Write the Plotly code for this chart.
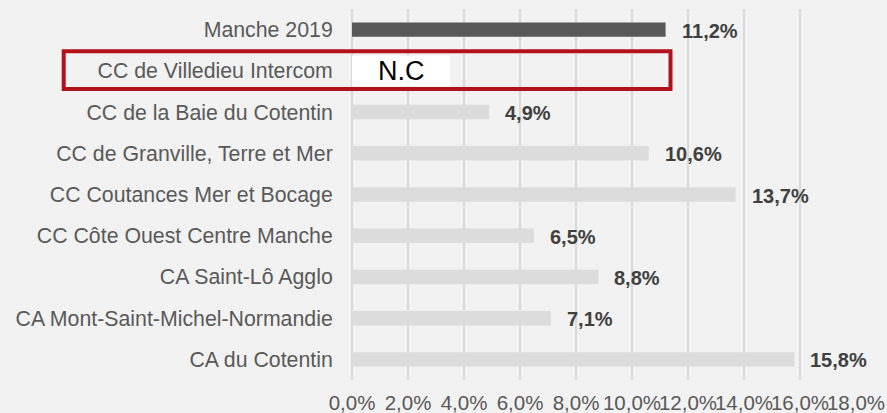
import plotly.graph_objects as go

categories = [
    "Manche 2019",
    "CC de Villedieu Intercom",
    "CC de la Baie du Cotentin",
    "CC de Granville, Terre et Mer",
    "CC Coutances Mer et Bocage",
    "CC Côte Ouest Centre Manche",
    "CA Saint-Lô Agglo",
    "CA Mont-Saint-Michel-Normandie",
    "CA du Cotentin",
]
values = [11.2, None, 4.9, 10.6, 13.7, 6.5, 8.8, 7.1, 15.8]
value_labels = ["11,2%", "", "4,9%", "10,6%", "13,7%", "6,5%", "8,8%", "7,1%", "15,8%"]
nc_category = ["CC de Villedieu Intercom"]
nc_text = ["N.C"]
nc_box_len = [3.5]
tick_vals = [0, 2, 4, 6, 8, 10, 12, 14, 16, 18]
tick_text = ["0,0%", "2,0%", "4,0%", "6,0%", "8,0%", "10,0%", "12,0%", "14,0%", "16,0%", "18,0%"]

FONT = "Liberation Sans, Arial, sans-serif"
bar_colors = ["#595959" if c == "Manche 2019" else "#dcdcdc" for c in categories]

fig = go.Figure()
fig.add_trace(go.Bar(
    y=categories, x=values, orientation="h", width=0.35,
    marker=dict(color=bar_colors, line=dict(width=0)),
    hoverinfo="skip", showlegend=False,
))
fig.add_trace(go.Bar(
    y=nc_category, x=nc_box_len, orientation="h", width=0.73,
    marker=dict(color="#ffffff", line=dict(width=0)),
    hoverinfo="skip", showlegend=False,
))
for c, ln, t in zip(nc_category, nc_box_len, nc_text):
    fig.add_annotation(
        x=ln / 2, y=c, xref="x", yref="y", text=t, showarrow=False,
        xanchor="center", yanchor="middle", yshift=0,
        font=dict(family=FONT, size=27, color="#000000"),
    )

for c, v, t in zip(categories, values, value_labels):
    if v is None:
        continue
    fig.add_annotation(
        x=v, y=c, xref="x", yref="y", text=t, showarrow=False,
        xanchor="left", yanchor="middle", xshift=14, yshift=-1,
        font=dict(family=FONT, size=20, color="#404040", weight="bold"),
    )

L, R, T, B = 352, 31, 9, 33
W, H = 887, 413
pw, ph = W - L - R, H - T - B

def px_x(x):
    return (x - L) / pw

def px_y(y):
    return (H - B - y) / ph

fig.add_shape(
    type="rect", xref="paper", yref="paper",
    x0=px_x(63.7), x1=px_x(670.5), y0=px_y(89), y1=px_y(51.3),
    line=dict(color="#b2121c", width=4), fillcolor="rgba(0,0,0,0)", layer="above",
)

fig.update_layout(
    width=W, height=H,
    margin=dict(l=L, r=R, t=T, b=B, pad=0, autoexpand=False),
    paper_bgcolor="#f2f2f2", plot_bgcolor="#f2f2f2",
    barmode="overlay",
    font=dict(family=FONT, color="#595959"),
    xaxis=dict(
        range=[0, 18], tickvals=tick_vals, ticktext=tick_text, tickangle=0,
        showgrid=True, gridcolor="#d9d9d9", gridwidth=2,
        zeroline=True, zerolinecolor="#d9d9d9", zerolinewidth=2,
        showline=False, ticks="outside", ticklen=4, tickcolor="rgba(0,0,0,0)",
        tickfont=dict(family=FONT, size=20.5, color="#595959"),
        fixedrange=True, automargin=False,
    ),
    yaxis=dict(
        categoryorder="array", categoryarray=categories, autorange="reversed",
        showgrid=False, zeroline=False, showline=False,
        ticks="outside", ticklen=14, tickcolor="rgba(0,0,0,0)",
        tickfont=dict(family=FONT, size=21.3, color="#595959"),
        fixedrange=True, automargin=False,
    ),
)

fig.write_html(
    "out.html",
    config={"displayModeBar": False},
    post_script="document.body.style.margin='0';document.body.style.overflow='hidden';",
)
